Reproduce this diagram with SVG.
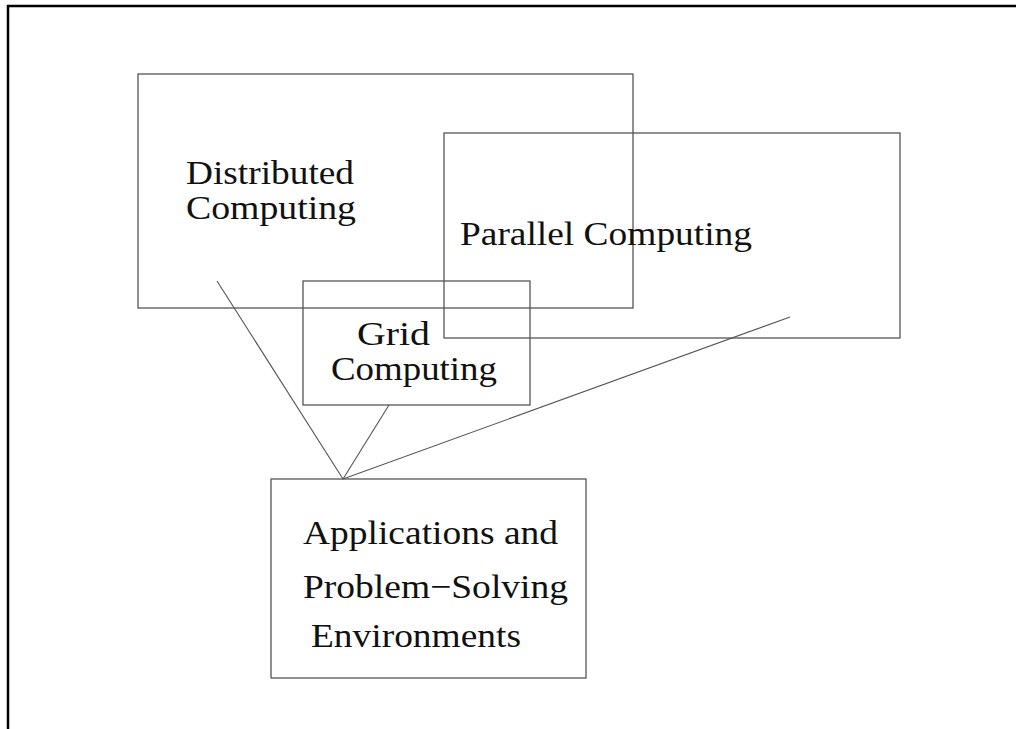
<svg xmlns="http://www.w3.org/2000/svg" width="1016" height="729" viewBox="0 0 1016 729">
<style>
.box{fill:none;stroke:#555;stroke-width:1.3}
.lbl{font-family:"Liberation Serif","Times New Roman",serif;font-size:34px;fill:#111}
.con{stroke:#555;stroke-width:1.1;fill:none}
</style>
<rect width="1016" height="729" fill="#fff"/>
<path d="M8,729 V6 H1016" fill="none" stroke="#000" stroke-width="2.5"/>
<g id="connectors">
<line class="con" x1="217" y1="281" x2="343" y2="479"/>
<line class="con" x1="389" y1="405" x2="343" y2="479"/>
<line class="con" x1="790" y1="317" x2="343" y2="479"/>
</g>
<g id="distributed">
<rect class="box" x="138" y="74" width="495" height="234"/>
<text class="lbl" x="186" y="184" textLength="168" lengthAdjust="spacingAndGlyphs">Distributed</text>
<text class="lbl" x="186" y="219" textLength="170" lengthAdjust="spacingAndGlyphs">Computing</text>
</g>
<g id="parallel">
<rect class="box" x="444" y="133" width="456" height="205"/>
<text class="lbl" x="460" y="245" textLength="292" lengthAdjust="spacingAndGlyphs">Parallel Computing</text>
</g>
<g id="grid">
<rect class="box" x="303" y="281" width="227" height="124"/>
<text class="lbl" x="357" y="345" textLength="73" lengthAdjust="spacingAndGlyphs">Grid</text>
<text class="lbl" x="331" y="380" textLength="166" lengthAdjust="spacingAndGlyphs">Computing</text>
</g>
<g id="applications">
<rect class="box" x="271" y="479" width="315" height="199"/>
<text class="lbl" x="303" y="544" textLength="255" lengthAdjust="spacingAndGlyphs">Applications and</text>
<text class="lbl" x="303" y="598" textLength="265" lengthAdjust="spacingAndGlyphs">Problem−Solving</text>
<text class="lbl" x="311" y="647" textLength="210" lengthAdjust="spacingAndGlyphs">Environments</text>
</g>
</svg>
